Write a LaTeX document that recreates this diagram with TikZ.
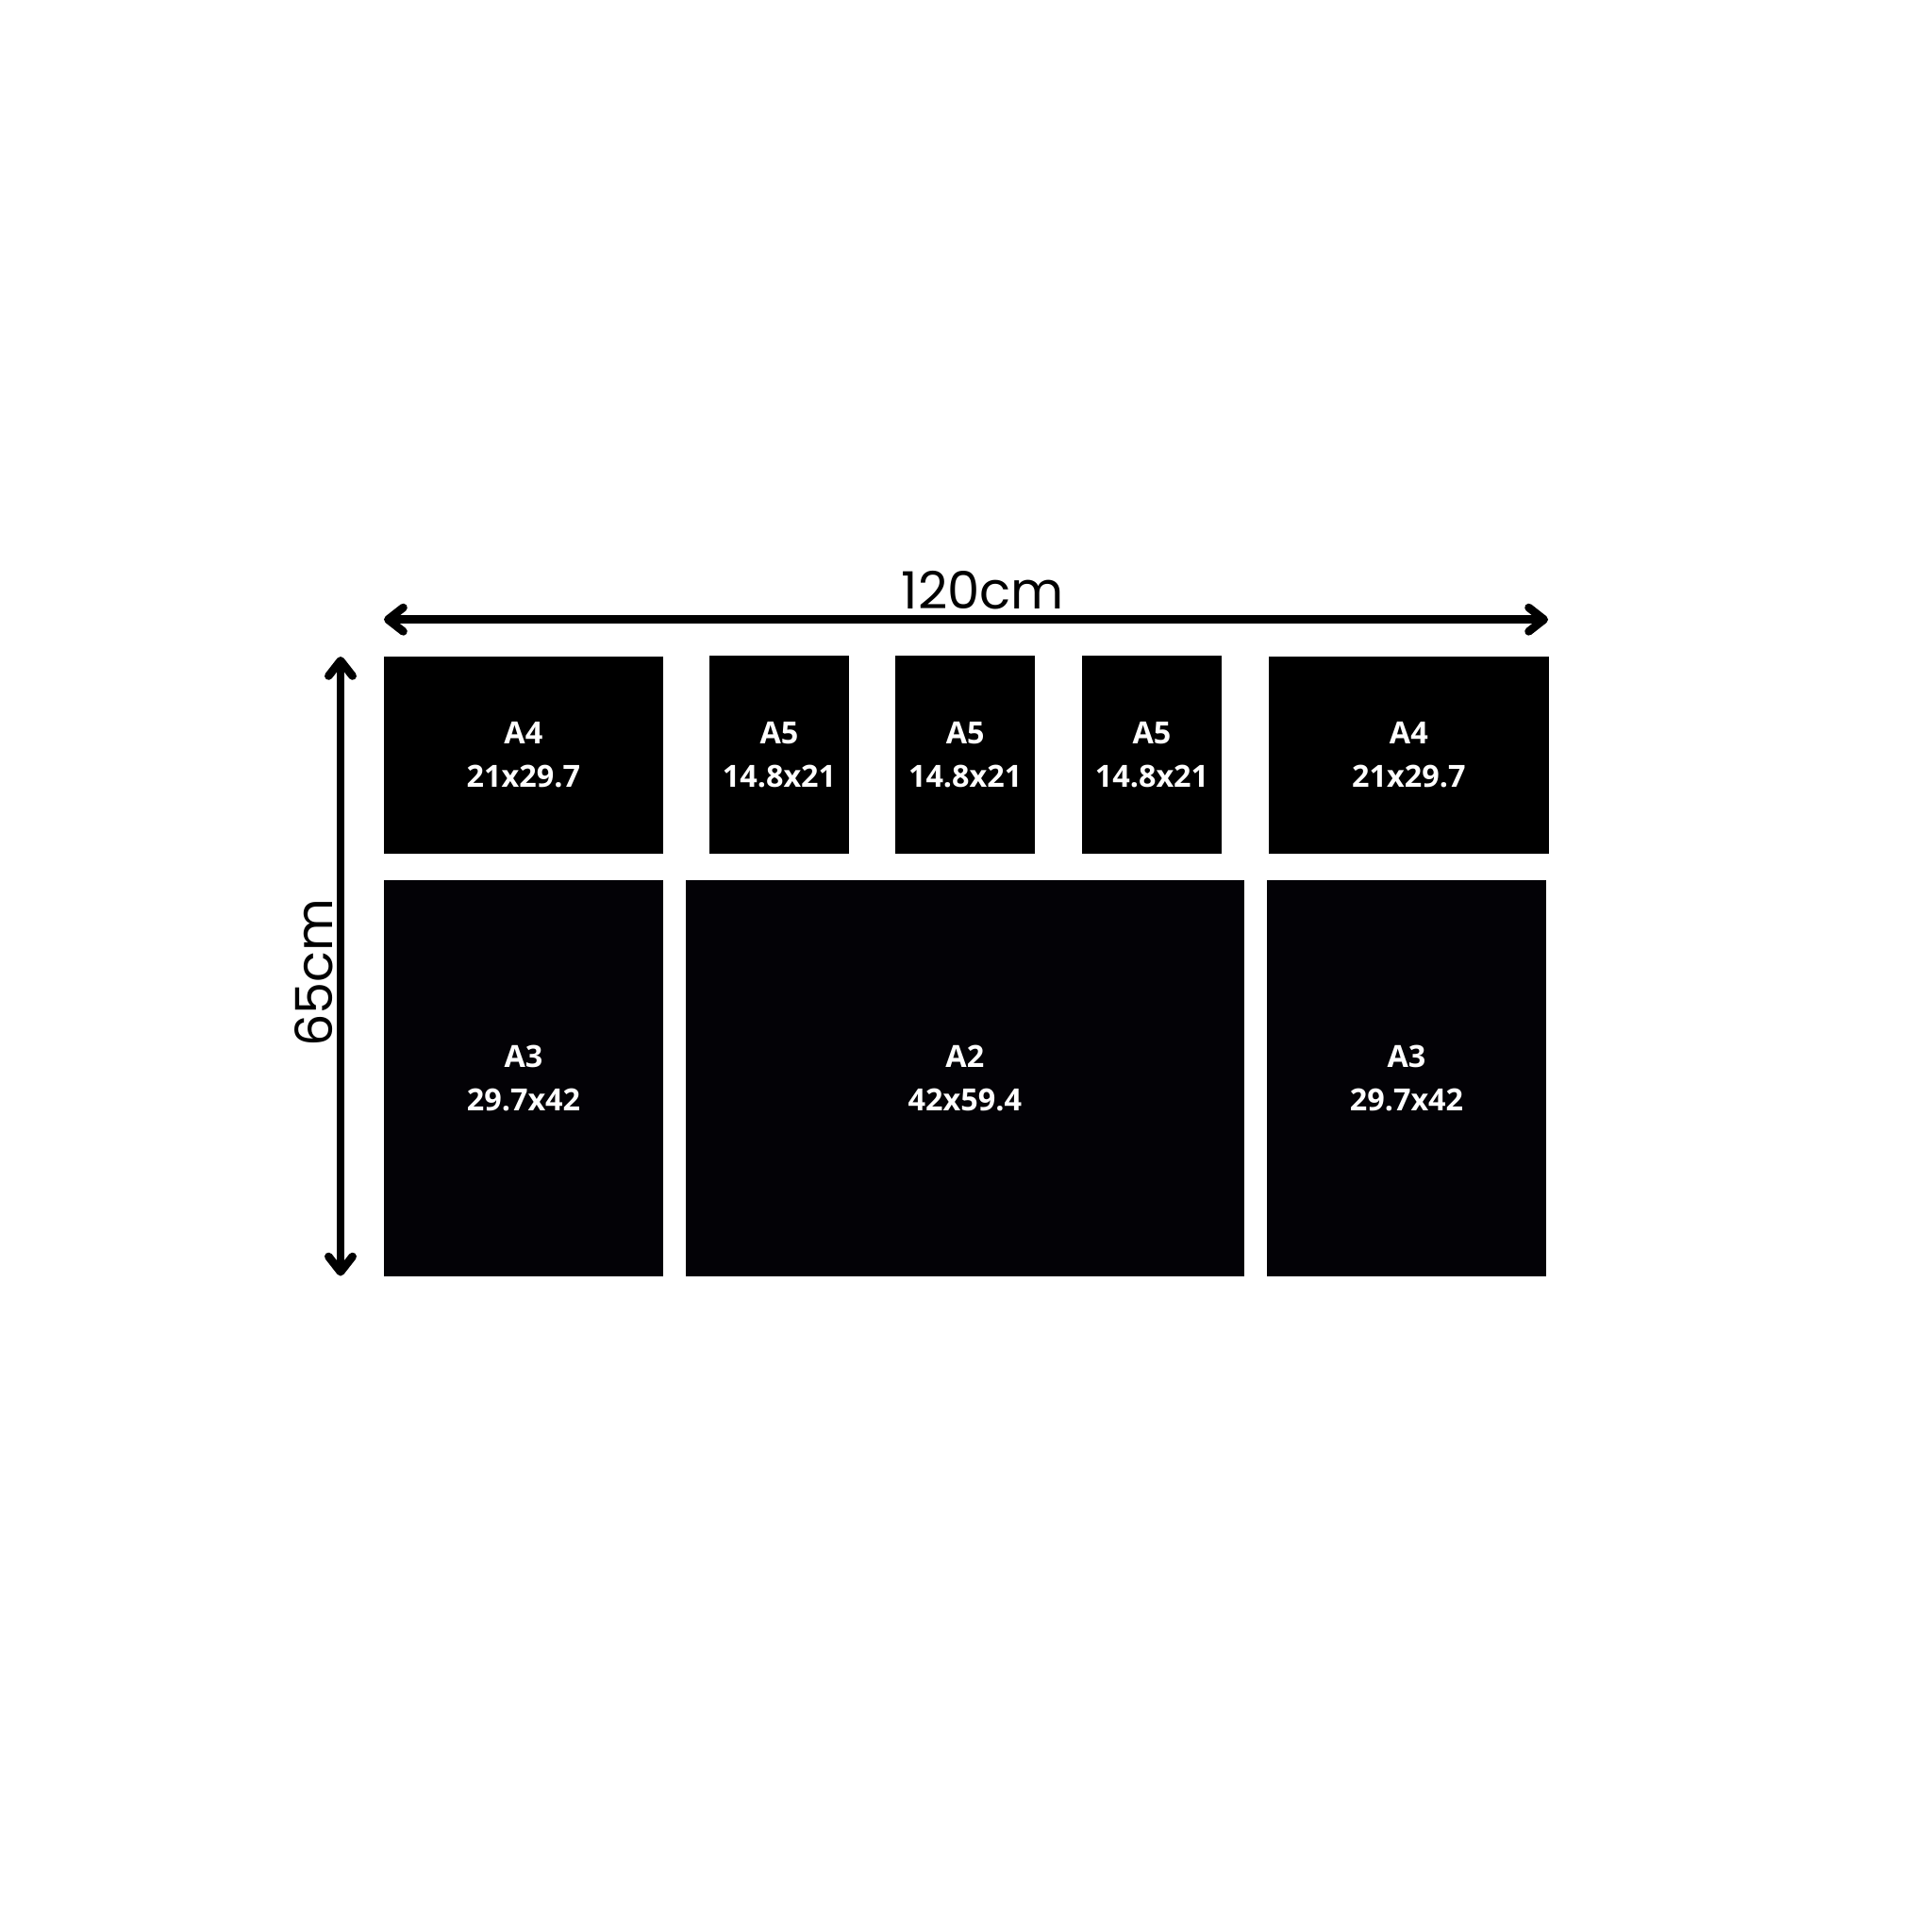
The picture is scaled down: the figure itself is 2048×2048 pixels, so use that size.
\documentclass[tikz,border=0pt]{standalone}
\usepackage{fontspec}
\usetikzlibrary{arrows.meta}
\newfontfamily\lblfont{Open Sans}
\newfontfamily\dimfont{Poppins}
\tikzset{
  sheet/.style={fill=black, draw=none, inner sep=0pt, text=white, align=center,
    font=\lblfont\bfseries\fontsize{9.2pt}{13.1pt}\selectfont},
  sheetB/.style={sheet, fill=nearblack},
  dimline/.style={line width=2.45pt, line cap=round,
    {Straight Barb[length=4.6pt, width=7.2pt, round]}-{Straight Barb[length=4.6pt, width=7.2pt, round]}},
  dimtext/.style={inner sep=0pt, anchor=base}
}
\definecolor{nearblack}{RGB}{3,2,6}
\begin{document}
\begin{tikzpicture}[x=0.01cm, y=-0.01cm]
\useasboundingbox (0,0) rectangle (2048,2048);
% top row
\node[sheet, minimum width=296.3*0.01cm, minimum height=209.3*0.01cm] (a4l) at (554.85,800.35) {A4\\21x29.7};
\node[sheet, minimum width=148*0.01cm, minimum height=210.3*0.01cm] (a5a) at (826,799.85) {A5\\14.8x21};
\node[sheet, minimum width=147.7*0.01cm, minimum height=210.3*0.01cm] (a5b) at (1023.15,799.85) {A5\\14.8x21};
\node[sheet, minimum width=148*0.01cm, minimum height=210.3*0.01cm] (a5c) at (1221,799.85) {A5\\14.8x21};
\node[sheet, minimum width=296.7*0.01cm, minimum height=209.5*0.01cm] (a4r) at (1493.35,800.25) {A4\\21x29.7};
% bottom row
\node[sheetB, minimum width=296.6*0.01cm, minimum height=420*0.01cm] (a3l) at (555,1143.3) {A3\\29.7x42};
\node[sheetB, minimum width=592.3*0.01cm, minimum height=420*0.01cm] (a2) at (1022.85,1143.3) {A2\\42x59.4};
\node[sheetB, minimum width=296.6*0.01cm, minimum height=420*0.01cm] (a3r) at (1491,1143.3) {A3\\29.7x42};
% dimension arrows
\coordinate (hL) at (407,656.7);
\coordinate (hR) at (1641,656.7);
\coordinate (vT) at (361,696);
\coordinate (vB) at (361,1352.5);
\draw[dimline] (hL) -- (hR);
\draw[dimline] (vT) -- (vB);
\node[dimtext, font=\dimfont\fontsize{15.5pt}{18pt}\selectfont] (w) at (1041.7,645) {120cm};
\node[dimtext, rotate=90, font=\dimfont\fontsize{15.4pt}{18pt}\selectfont] (h) at (352,1031) {65cm};
\end{tikzpicture}
\end{document}
